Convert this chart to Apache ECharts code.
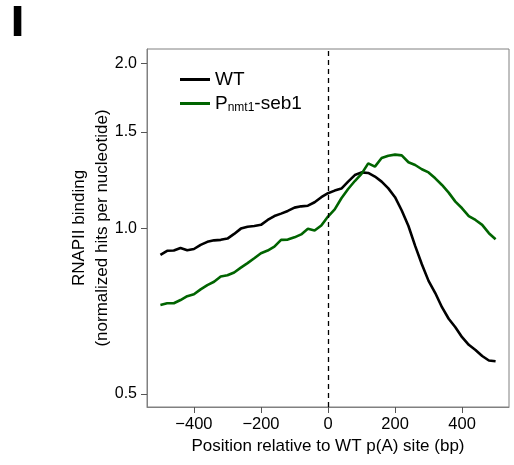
<!DOCTYPE html>
<html>
<head>
<meta charset="utf-8">
<script src="https://cdn.jsdelivr.net/npm/echarts@6/dist/echarts.min.js"></script>
<style>
  html, body { margin: 0; padding: 0; background: #fff; }
  #chart { width: 514px; height: 465px; }
</style>
</head>
<body>
<div id="chart"></div>
<script>
  // position relative to WT p(A) site, bp
  var positions = [
    -500, -480, -460, -440, -420, -400, -380, -360, -340, -320,
    -300, -280, -260, -240, -220, -200, -180, -160, -140, -120,
    -100, -80, -60, -40, -20, 0, 20, 40, 60, 80,
    100, 120, 140, 160, 180, 200, 220, 240, 260, 280,
    300, 320, 340, 360, 380, 400, 420, 440, 460, 480, 500
  ];
  var wtValues = [
    0.896, 0.911, 0.912, 0.922, 0.913, 0.918, 0.934, 0.946, 0.952, 0.954,
    0.959, 0.978, 1.000, 1.008, 1.011, 1.016, 1.037, 1.054, 1.065, 1.077,
    1.092, 1.098, 1.101, 1.117, 1.141, 1.160, 1.173, 1.183, 1.218, 1.252,
    1.266, 1.263, 1.244, 1.218, 1.184, 1.141, 1.079, 1.011, 0.930, 0.861,
    0.803, 0.763, 0.719, 0.685, 0.661, 0.634, 0.614, 0.601, 0.586, 0.575, 0.573
  ];
  var seb1Values = [
    0.726, 0.731, 0.731, 0.741, 0.753, 0.759, 0.775, 0.789, 0.800, 0.818,
    0.822, 0.832, 0.849, 0.865, 0.883, 0.902, 0.912, 0.927, 0.954, 0.955,
    0.964, 0.976, 0.999, 0.992, 1.013, 1.052, 1.084, 1.136, 1.181, 1.221,
    1.258, 1.315, 1.297, 1.345, 1.358, 1.364, 1.360, 1.321, 1.306, 1.283,
    1.266, 1.235, 1.201, 1.163, 1.120, 1.089, 1.054, 1.037, 1.016, 0.981, 0.956
  ];
  var xTicks = [-400, -200, 0, 200, 400];
  var yTicks = [0.5, 1.0, 1.5, 2.0];
  var yMin = 0.473, yMax = 2.125;

  // y axis is log scaled: values are sent as log10
  function toLog(vals) {
    return vals.map(function (v, i) { return [positions[i], Math.log10(v)]; });
  }

  var chart = echarts.init(document.getElementById('chart'));
  var font = 'Liberation Sans, Arial, sans-serif';

  chart.setOption({
    animation: false,
    title: {
      text: 'I',
      left: 7,
      top: -1,
      textStyle: {
        fontSize: 40, fontWeight: 'bold', color: '#000', fontFamily: font,
        textBorderColor: '#000', textBorderWidth: 1.8
      }
    },
    legend: {
      orient: 'vertical',
      left: 175,
      top: 65,
      itemGap: 4,
      itemWidth: 30,
      itemHeight: 3,
      icon: 'rect',
      data: ['WT', 'Pnmt1-seb1'],
      formatter: function (name) {
        if (name === 'WT') return '{main|WT}';
        return '{main|P}{sub|nmt1}{main|-seb1}';
      },
      textStyle: {
        fontFamily: font,
        color: '#000',
        rich: {
          main: { fontSize: 19, lineHeight: 21, fontFamily: font, color: '#000' },
          sub: { fontSize: 12, lineHeight: 21, fontFamily: font, color: '#000', padding: [9, 0, 0, 0] }
        }
      }
    },
    grid: {
      left: 147,
      right: 5,
      top: 49,
      bottom: 58,
      show: true,
      borderColor: '#808080',
      borderWidth: 1
    },
    xAxis: {
      type: 'value',
      min: -540,
      max: 540,
      name: 'Position relative to WT p(A) site (bp)',
      nameLocation: 'middle',
      nameGap: 31,
      nameTextStyle: { fontSize: 17, color: '#000', fontFamily: font },
      axisLine: { onZero: false, lineStyle: { color: '#808080' } },
      axisTick: { customValues: xTicks, length: 6, lineStyle: { color: '#555' } },
      axisLabel: {
        customValues: xTicks,
        margin: 9,
        fontSize: 16.5,
        color: '#000',
        fontFamily: font,
        formatter: function (v) { return v < 0 ? '\u2212' + Math.abs(v) : String(v); }
      },
      splitLine: { show: false }
    },
    yAxis: {
      type: 'value',
      min: Math.log10(yMin),
      max: Math.log10(yMax),
      name: 'RNAPII binding\n(normalized hits per nucleotide)',
      nameLocation: 'middle',
      nameRotate: 90,
      nameGap: 33,
      nameMoveOverlap: false,
      nameTextStyle: { fontSize: 17, lineHeight: 23, color: '#000', fontFamily: font },
      axisLine: { show: true, onZero: false, lineStyle: { color: '#808080' } },
      axisTick: { show: true, customValues: yTicks.map(Math.log10), length: 6, lineStyle: { color: '#555' } },
      axisLabel: {
        customValues: yTicks.map(Math.log10),
        margin: 10,
        fontSize: 16,
        color: '#000',
        fontFamily: font,
        formatter: function (v) { return Math.pow(10, v).toFixed(1); }
      },
      splitLine: { show: false }
    },
    series: [
      {
        name: 'WT',
        type: 'line',
        symbol: 'none',
        data: toLog(wtValues),
        lineStyle: { color: '#000', width: 2.6 },
        itemStyle: { color: '#000' },
        markLine: {
          silent: true,
          symbol: 'none',
          label: { show: false },
          lineStyle: { color: '#000', type: [5, 4], width: 1.3 },
          data: [{ xAxis: 0 }]
        }
      },
      {
        name: 'Pnmt1-seb1',
        type: 'line',
        symbol: 'none',
        data: toLog(seb1Values),
        lineStyle: { color: '#006400', width: 2.6 },
        itemStyle: { color: '#006400' }
      }
    ]
  });
</script>
</body>
</html>
